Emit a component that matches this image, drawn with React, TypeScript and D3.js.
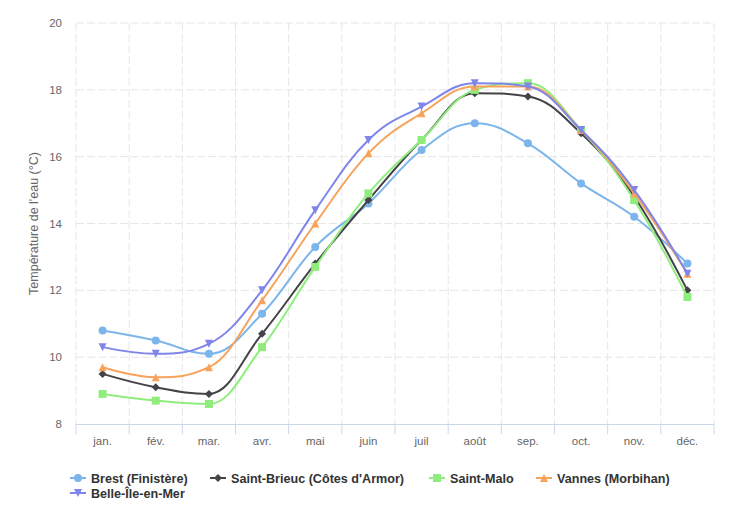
import React from "react";
import * as d3 from "d3";

const months = ["jan.", "fév.", "mar.", "avr.", "mai", "juin", "juil", "août", "sep.", "oct.", "nov.", "déc."];

const brest = [10.8, 10.5, 10.1, 11.3, 13.3, 14.6, 16.2, 17.0, 16.4, 15.2, 14.2, 12.8];
const saintBrieuc = [9.5, 9.1, 8.9, 10.7, 12.8, 14.7, 16.5, 17.9, 17.8, 16.7, 14.8, 12.0];
const saintMalo = [8.9, 8.7, 8.6, 10.3, 12.7, 14.9, 16.5, 18.0, 18.2, 16.8, 14.7, 11.8];
const vannes = [9.7, 9.4, 9.7, 11.7, 14.0, 16.1, 17.3, 18.1, 18.1, 16.8, 14.9, 12.5];
const belleIle = [10.3, 10.1, 10.4, 12.0, 14.4, 16.5, 17.5, 18.2, 18.1, 16.8, 15.0, 12.5];

const yTicks = [8, 10, 12, 14, 16, 18, 20];

type Symbol = "circle" | "diamond" | "square" | "triangle" | "triangle-down";

const series: { name: string; values: number[]; color: string; symbol: Symbol }[] = [
  { name: "Brest (Finistère)", values: brest, color: "#7cb5ec", symbol: "circle" },
  { name: "Saint-Brieuc (Côtes d'Armor)", values: saintBrieuc, color: "#434348", symbol: "diamond" },
  { name: "Saint-Malo", values: saintMalo, color: "#90ed7d", symbol: "square" },
  { name: "Vannes (Morbihan)", values: vannes, color: "#f7a35c", symbol: "triangle" },
  { name: "Belle-Île-en-Mer", values: belleIle, color: "#8085e9", symbol: "triangle-down" },
];

const W = 737;
const H = 528;
const plot = { left: 76, right: 714, top: 23, bottom: 424 };
const font = "'Liberation Sans', Arial, sans-serif";

// spline similar to the one highcharts uses (smoothing 1.5)
function spline(pts: [number, number][]): string {
  const smoothing = 1.5;
  const denom = smoothing + 1;
  const right: ([number, number] | null)[] = pts.map(() => null);
  let path = `M${pts[0][0]},${pts[0][1]}`;
  for (let i = 1; i < pts.length; i++) {
    const [px, py] = pts[i];
    const [lx, ly] = pts[i - 1];
    let lcx = px;
    let lcy = py;
    if (i < pts.length - 1) {
      const [nx, ny] = pts[i + 1];
      lcx = (smoothing * px + lx) / denom;
      lcy = (smoothing * py + ly) / denom;
      const rcx = (smoothing * px + nx) / denom;
      let rcy = (smoothing * py + ny) / denom;
      const corr = ((rcy - lcy) * (rcx - px)) / (rcx - lcx) + py - rcy;
      lcy += corr;
      rcy += corr;
      if (lcy > ly && lcy > py) {
        lcy = Math.max(ly, py);
        rcy = 2 * py - lcy;
      } else if (lcy < ly && lcy < py) {
        lcy = Math.min(ly, py);
        rcy = 2 * py - lcy;
      }
      if (rcy > ny && rcy > py) {
        rcy = Math.max(ny, py);
        lcy = 2 * py - rcy;
      } else if (rcy < ny && rcy < py) {
        rcy = Math.min(ny, py);
        lcy = 2 * py - rcy;
      }
      right[i] = [rcx, rcy];
    }
    const rc = right[i - 1] || pts[i - 1];
    path += `C${rc[0]},${rc[1]} ${lcx},${lcy} ${px},${py}`;
  }
  return path;
}

function markerPath(symbol: Symbol, cx: number, cy: number, r = 4): string {
  const x = cx - r;
  const y = cy - r;
  const w = 2 * r;
  switch (symbol) {
    case "circle":
      return `M${cx - r},${cy}a${r},${r} 0 1,0 ${w},0a${r},${r} 0 1,0 ${-w},0Z`;
    case "square":
      return `M${x},${y}h${w}v${w}h${-w}Z`;
    case "diamond":
      return `M${cx},${y}L${x + w},${cy}L${cx},${y + w}L${x},${cy}Z`;
    case "triangle":
      return `M${cx},${y}L${x + w},${y + w}L${x},${y + w}Z`;
    case "triangle-down":
      return `M${x},${y}L${x + w},${y}L${cx},${y + w}Z`;
  }
}

// legend item positions (x of symbol start, row y)
const legendPos = [
  { x: 70, y: 478 },
  { x: 210, y: 478 },
  { x: 429, y: 478 },
  { x: 536, y: 478 },
  { x: 70, y: 493 },
];

export default function App() {
  const x = d3.scaleBand<string>().domain(months).range([plot.left, plot.right]);
  const y = d3.scaleLinear().domain([8, 20]).range([plot.bottom, plot.top]);
  const cx = (m: string) => (x(m) as number) + x.bandwidth() / 2;
  const bounds = months.map((m) => x(m) as number).concat([plot.right]);

  return (
    <svg
      width={W}
      height={H}
      style={{ position: "absolute", left: 0, top: 0, background: "#fff", fontFamily: font }}
    >
      {/* grid */}
      {yTicks
        .filter((t) => t !== 8)
        .map((t) => (
          <line
            key={"gy" + t}
            x1={plot.left}
            x2={plot.right}
            y1={y(t)}
            y2={y(t)}
            stroke="#e6e6e6"
            strokeDasharray="8,3"
          />
        ))}
      {bounds.map((b, i) => (
        <line
          key={"gx" + i}
          x1={b}
          x2={b}
          y1={plot.top}
          y2={plot.bottom}
          stroke="#e6e6e6"
          strokeDasharray="8,3"
        />
      ))}
      {/* x axis */}
      <line x1={plot.left} x2={plot.right} y1={plot.bottom + 0.5} y2={plot.bottom + 0.5} stroke="#ccd6eb" />
      {bounds.map((b, i) => (
        <line key={"tx" + i} x1={b} x2={b} y1={plot.bottom} y2={plot.bottom + 10} stroke="#ccd6eb" />
      ))}
      {months.map((m) => (
        <text key={m} x={cx(m)} y={plot.bottom + 21} textAnchor="middle" fontSize={11.5} fill="#666">
          {m}
        </text>
      ))}
      {/* y axis */}
      {yTicks.map((t) => (
        <text key={"ty" + t} x={62} y={y(t) + 4} textAnchor="end" fontSize={11.5} fill="#666">
          {t}
        </text>
      ))}
      <text
        transform={`translate(38,${(plot.top + plot.bottom) / 2}) rotate(-90)`}
        textAnchor="middle"
        fontSize={12.5}
        fill="#666"
      >
        Température de l'eau (°C)
      </text>
      {/* series */}
      {series.map((s) => {
        const pts = s.values.map((v, i) => [cx(months[i]), y(v)] as [number, number]);
        return (
          <g key={s.name}>
            <path d={spline(pts)} fill="none" stroke={s.color} strokeWidth={2} strokeLinejoin="round" strokeLinecap="round" />
            {pts.map((p, i) => (
              <path key={i} d={markerPath(s.symbol, p[0], p[1])} fill={s.color} />
            ))}
          </g>
        );
      })}
      {/* legend */}
      {series.map((s, i) => {
        const pos = legendPos[i];
        return (
          <g key={"lg" + s.name}>
            <line x1={pos.x} x2={pos.x + 16} y1={pos.y} y2={pos.y} stroke={s.color} strokeWidth={2} />
            <path d={markerPath(s.symbol, pos.x + 8, pos.y)} fill={s.color} />
            <text x={pos.x + 21} y={pos.y + 4.5} fontSize={12.6} fontWeight="bold" fill="#333">
              {s.name}
            </text>
          </g>
        );
      })}
    </svg>
  );
}
